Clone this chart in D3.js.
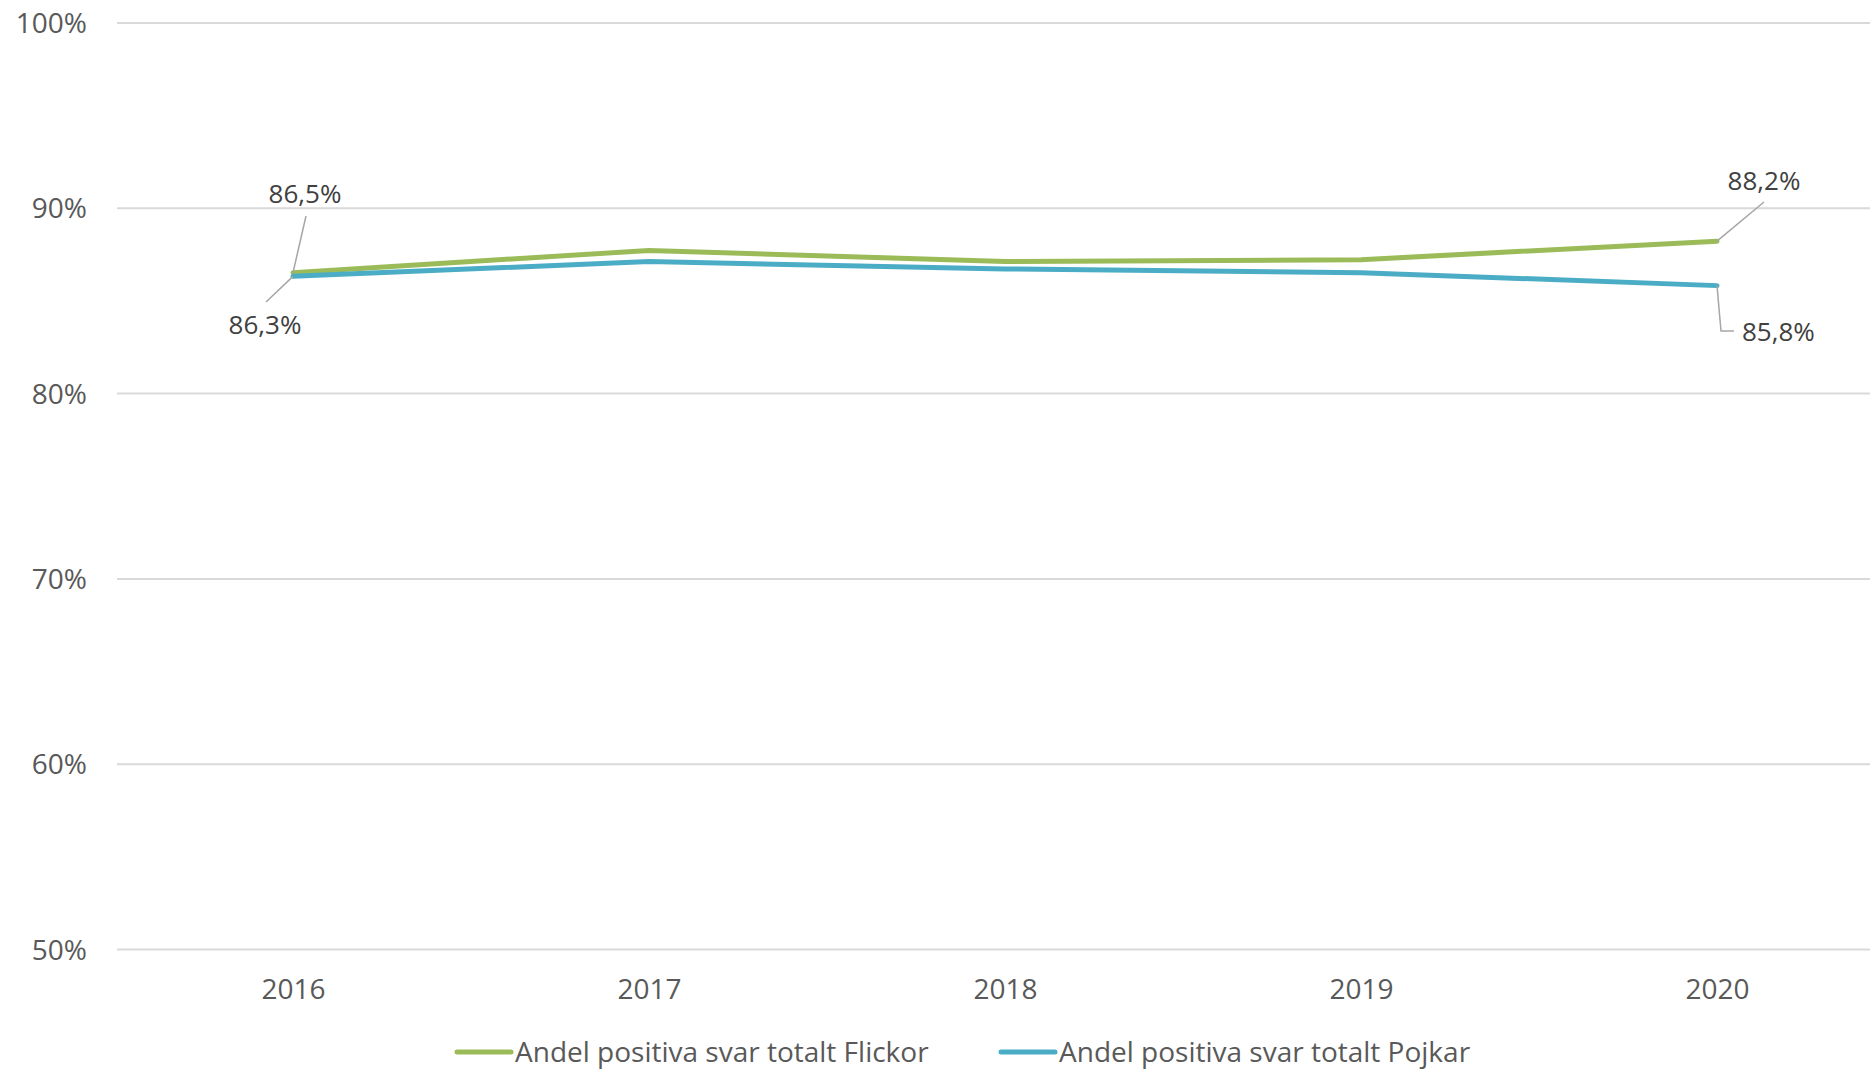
<!doctype html>
<html>
  <head>
    <script src="https://d3js.org/d3.v7.min.js"></script>
    <style>
      body { margin: 0; background: #fff; }
      text { font-family: "Open Sans", sans-serif; }
    </style>
  </head>
  <body>
    <svg id="chart" width="1870" height="1069"></svg>
    <script>
      var years = ['2016', '2017', '2018', '2019', '2020'];
      var flickor = [86.5, 87.7, 87.1, 87.2, 88.2];
      var pojkar = [86.3, 87.1, 86.7, 86.5, 85.8];
      var yTicks = [50, 60, 70, 80, 90, 100];
      var seriesNames = ['Andel positiva svar totalt Flickor', 'Andel positiva svar totalt Pojkar'];
      var colors = ['#9bbb59', '#4bacc6'];

      var svg = d3.select('#chart');

      var xScale = d3.scalePoint()
        .domain(years)
        .range([293, 1717]);

      var yScale = d3.scaleLinear()
        .domain([50, 100])
        .range([949, 22.5]);

      // gridlines + y labels
      var yAxis = d3.axisLeft(yScale)
        .tickValues(yTicks)
        .tickSize(-1760)
        .tickPadding(30)
        .tickFormat(d => d + '%');

      var yG = svg.append('g')
        .attr('transform', 'translate(117,0)')
        .call(yAxis);
      yG.select('.domain').remove();
      yG.selectAll('.tick line')
        .style('stroke', '#d9d9d9')
        .style('stroke-width', '2px');
      yG.selectAll('.tick text')
        .style('font-size', '28px')
        .style('fill', '#595959')
        .attr('dy', '0.36em');

      var xAxis = d3.axisBottom(xScale)
        .tickSize(0)
        .tickPadding(30);

      var xG = svg.append('g')
        .attr('transform', 'translate(0,949)')
        .call(xAxis);
      xG.select('.domain').remove();
      xG.selectAll('.tick text')
        .style('font-size', '28px')
        .style('fill', '#595959');

      var line = d3.line()
        .x((d, i) => xScale(years[i]))
        .y(d => yScale(d));

      [flickor, pojkar].forEach(function(s, k) {
        svg.append('path')
          .datum(s)
          .attr('d', line)
          .style('fill', 'none')
          .style('stroke', colors[k])
          .style('stroke-width', '5px')
          .style('stroke-linecap', 'round')
          .style('stroke-linejoin', 'round');
      });

      var fmt = v => d3.format('.1f')(v).replace('.', ',') + '%';

      // data labels with leader lines
      var labels = [
        { v: flickor[0], tx: 305, ty: 203, anchor: 'middle',
          leader: [[306, 216], [xScale(years[0]), yScale(flickor[0])]] },
        { v: pojkar[0], tx: 265, ty: 334, anchor: 'middle',
          leader: [[266, 302], [xScale(years[0]), yScale(pojkar[0])]] },
        { v: flickor[4], tx: 1764, ty: 190, anchor: 'middle',
          leader: [[1764, 202], [xScale(years[4]), yScale(flickor[4])]] },
        { v: pojkar[4], tx: 1742, ty: 341, anchor: 'start',
          leader: [[xScale(years[4]), yScale(pojkar[4])], [1721, 331], [1734, 331]] }
      ];

      labels.forEach(function(l) {
        svg.append('path')
          .attr('d', d3.line()(l.leader))
          .style('fill', 'none')
          .style('stroke', '#a6a6a6')
          .style('stroke-width', '1.5px');
        svg.append('text')
          .attr('x', l.tx)
          .attr('y', l.ty)
          .attr('text-anchor', l.anchor)
          .style('font-size', '26px')
          .style('fill', '#404040')
          .text(fmt(l.v));
      });

      // legend
      var legendX = [457, 1001];
      seriesNames.forEach(function(name, k) {
        svg.append('line')
          .attr('x1', legendX[k])
          .attr('x2', legendX[k] + 54)
          .attr('y1', 1052)
          .attr('y2', 1052)
          .style('stroke', colors[k])
          .style('stroke-width', '5px')
          .style('stroke-linecap', 'round');
        svg.append('text')
          .attr('x', legendX[k] + 58)
          .attr('y', 1062)
          .style('font-size', '28px')
          .style('fill', '#595959')
          .text(name);
      });
    </script>
  </body>
</html>
